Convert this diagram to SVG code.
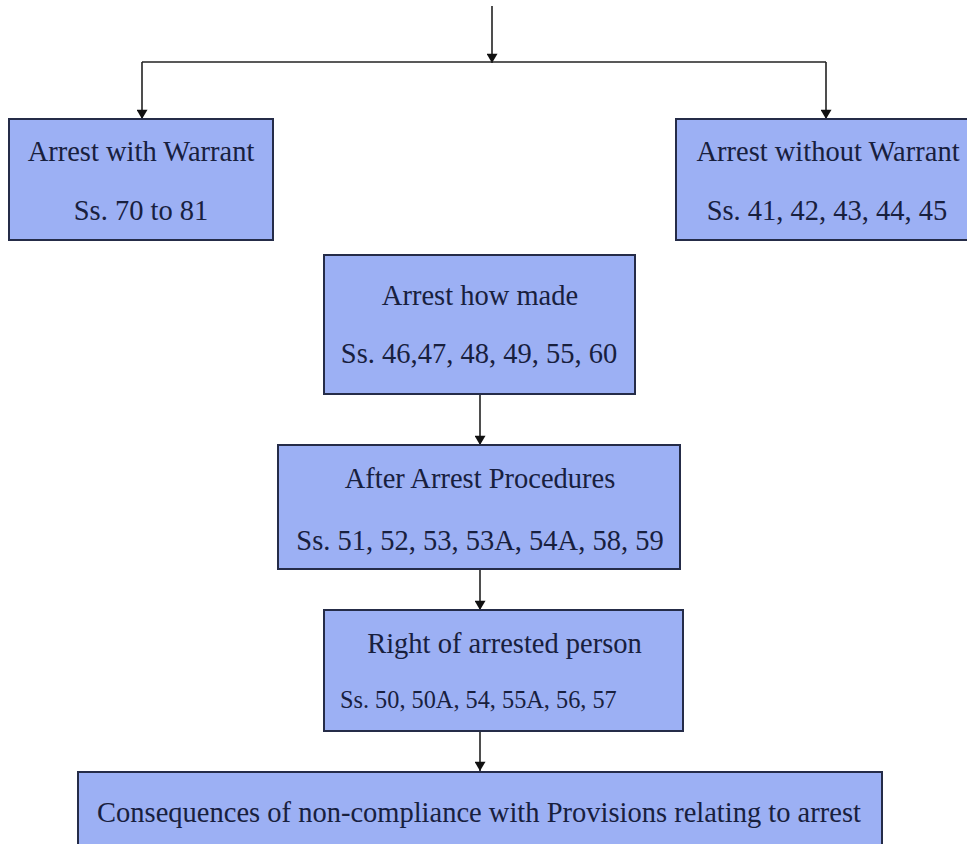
<svg xmlns="http://www.w3.org/2000/svg" width="967" height="844" viewBox="0 0 967 844">
<style>
.box{fill:#9cb0f4;stroke:#252c48;stroke-width:2}
.t{font-family:"Liberation Serif","Times New Roman",serif;font-size:28.5px;fill:#18203e;text-anchor:middle}
.s{font-size:24.3px;text-anchor:start}
.c{fill:none;stroke:#222;stroke-width:1.6}
.a{marker-end:url(#ah)}
</style>
<defs>
<marker id="ah" markerWidth="13" markerHeight="11" refX="11" refY="6.5" orient="auto" markerUnits="userSpaceOnUse" viewBox="0 0 11 13">
<path d="M0,0 L11,6.5 L0,13 Z" fill="#111"/>
</marker>
</defs>
<rect width="967" height="844" fill="#fff"/>
<g id="connectors">
<path class="c a" d="M492,6 V63"/>
<path class="c" d="M142,62 H826"/>
<path class="c a" d="M142,62 V119"/>
<path class="c a" d="M826,62 V119"/>
<path class="c a" d="M480,394 V445"/>
<path class="c a" d="M480,570 V610"/>
<path class="c a" d="M480,731 V771"/>
</g>
<g id="n1">
<rect class="box" x="9" y="119" width="264" height="121"/>
<text class="t" x="141" y="161">Arrest with Warrant</text>
<text class="t" x="141" y="220">Ss. 70 to 81</text>
</g>
<g id="n2">
<rect class="box" x="676" y="119" width="300" height="121"/>
<text class="t" x="828" y="161">Arrest without Warrant</text>
<text class="t" x="827" y="220">Ss. 41, 42, 43, 44, 45</text>
</g>
<g id="n3">
<rect class="box" x="324" y="255" width="311" height="139"/>
<text class="t" x="480" y="305">Arrest how made</text>
<text class="t" x="479" y="363">Ss. 46,47, 48, 49, 55, 60</text>
</g>
<g id="n4">
<rect class="box" x="278" y="445" width="402" height="124"/>
<text class="t" x="480" y="488">After Arrest Procedures</text>
<text class="t" x="480" y="550">Ss. 51, 52, 53, 53A, 54A, 58, 59</text>
</g>
<g id="n5">
<rect class="box" x="324" y="610" width="359" height="121"/>
<text class="t" x="504.5" y="653">Right of arrested person</text>
<text class="t s" x="340" y="708">Ss. 50, 50A, 54, 55A, 56, 57</text>
</g>
<g id="n6">
<rect class="box" x="78" y="772" width="804" height="80"/>
<text class="t" x="479" y="822">Consequences of non-compliance with Provisions relating to arrest</text>
</g>
</svg>
